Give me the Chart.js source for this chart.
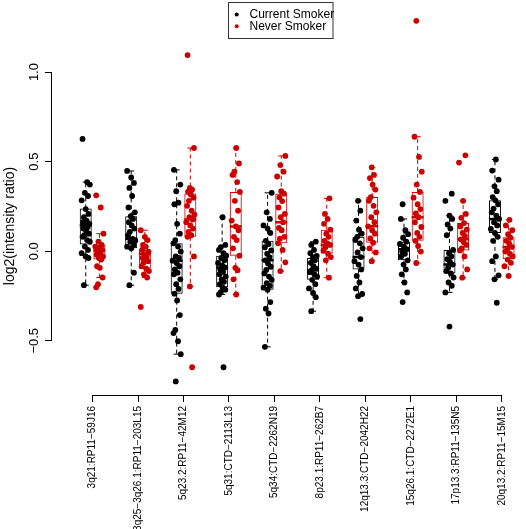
<!DOCTYPE html>
<html><head><meta charset="utf-8">
<script src="https://cdn.jsdelivr.net/npm/chart.js@4.4.0/dist/chart.umd.min.js"></script>
<style>html,body{margin:0;padding:0;background:#fff;overflow:hidden}</style>
</head><body>
<canvas id="c" width="526" height="529"></canvas>
<script>
// ---------- data ----------
const categories = ["3q21:RP11\u221259J16","3q25\u22123q26.1:RP11\u2212203L15","5q23.2:RP11\u221242M12","5q31:CTD\u22122113L13","5q34:CTD\u22122262N19","8p23.1:RP11\u2212262B7","12q13.3:CTD\u22122042H22","15q26.1:CTD\u22122272E1","17p13.3:RP11\u2212135N5","20q13.2:RP11\u221215M15"];
const seriesNames = ["Current Smoker", "Never Smoker"];
const yTicks = [-0.5, 0.0, 0.5, 1.0];
const yTickLabels = ["\u22120.5", "0.0", "0.5", "1.0"];
const yTitle = "log2(intensity ratio)";

const currentPoints = [
  [0.627,0.386,0.372,0.326,0.308,0.284,0.235,0.208,0.19,0.171,0.162,0.153,0.144,0.135,0.126,0.117,0.098,0.089,0.08,0.062,0.053,0.026,0.007,-0.011,-0.029,-0.038,-0.19],
  [0.448,0.412,0.381,0.353,0.308,0.244,0.217,0.195,0.18,0.162,0.144,0.126,0.108,0.089,0.069,0.06,0.053,0.035,0.025,0.016,-0.12,-0.19],
  [0.454,0.372,0.335,0.271,0.262,0.153,0.098,0.062,0.044,0.026,-0.002,-0.029,-0.038,-0.053,-0.066,-0.084,-0.102,-0.12,-0.129,-0.157,-0.184,-0.211,-0.237,-0.275,-0.357,-0.439,-0.457,-0.503,-0.575,-0.727],
  [0.19,0.035,0.022,0.007,-0.011,-0.025,-0.038,-0.051,-0.066,-0.08,-0.091,-0.102,-0.116,-0.129,-0.142,-0.157,-0.171,-0.184,-0.202,-0.215,-0.229,-0.242,-0.648],
  [0.326,0.217,0.18,0.144,0.126,0.102,0.058,0.04,0.022,0.004,-0.014,-0.033,-0.051,-0.069,-0.087,-0.105,-0.124,-0.142,-0.16,-0.178,-0.193,-0.204,-0.215,-0.284,-0.321,-0.348,-0.534],
  [0.053,0.035,0.007,-0.011,-0.026,-0.038,-0.051,-0.065,-0.084,-0.097,-0.106,-0.117,-0.13,-0.142,-0.16,-0.184,-0.208,-0.233,-0.257,-0.335],
  [0.281,0.226,0.171,0.12,0.098,0.08,0.062,0.044,0.016,-0.007,-0.033,-0.056,-0.075,-0.102,-0.138,-0.175,-0.208,-0.239,-0.251,-0.379],
  [0.262,0.18,0.117,0.095,0.075,0.053,0.04,0.026,0.011,-0.002,-0.015,-0.029,-0.051,-0.075,-0.102,-0.129,-0.175,-0.23,-0.284],
  [0.321,0.281,0.199,0.18,0.149,0.126,0.089,0.007,-0.011,-0.029,-0.044,-0.06,-0.075,-0.093,-0.111,-0.124,-0.147,-0.175,-0.193,-0.23,-0.421],
  [0.512,0.45,0.399,0.362,0.335,0.302,0.284,0.262,0.238,0.217,0.199,0.18,0.162,0.144,0.124,0.102,0.08,0.058,-0.029,-0.056,-0.135,-0.157,-0.288]
];
const neverPoints = [
  [0.312,0.244,0.098,0.053,0.035,0.026,0.016,0.007,-0.002,-0.011,-0.02,-0.029,-0.038,-0.047,-0.084,-0.093,-0.147,-0.184,-0.202],
  [0.117,0.08,0.062,0.035,0.026,0.007,-0.002,-0.016,-0.029,-0.038,-0.047,-0.056,-0.065,-0.084,-0.098,-0.111,-0.129,-0.147,-0.311],
  [1.095,0.576,0.353,0.344,0.332,0.317,0.299,0.281,0.253,0.226,0.204,0.19,0.177,0.162,0.144,0.126,0.107,0.089,0.08,-0.029,-0.197,-0.648],
  [0.576,0.49,0.444,0.426,0.386,0.331,0.281,0.226,0.171,0.138,0.117,0.08,0.062,0.016,-0.025,-0.093,-0.106,-0.157,-0.242],
  [0.532,0.481,0.444,0.417,0.335,0.321,0.3,0.28,0.244,0.208,0.19,0.162,0.13,0.117,0.08,0.07,0.044,0.007,-0.062,-0.111],
  [0.295,0.208,0.18,0.153,0.12,0.098,0.08,0.058,0.044,0.035,0.022,0.004,-0.014,-0.033,-0.051,-0.148],
  [0.468,0.426,0.408,0.372,0.344,0.302,0.281,0.253,0.217,0.19,0.162,0.139,0.117,0.098,0.071,0.047,0.016,-0.007,-0.056],
  [1.286,0.639,0.526,0.444,0.372,0.331,0.299,0.262,0.235,0.211,0.19,0.162,0.135,0.102,0.08,0.058,0.029,-0.002,-0.066],
  [0.535,0.495,0.281,0.208,0.186,0.157,0.138,0.12,0.102,0.084,0.066,0.051,0.035,0.016,0.004,-0.029,-0.102,-0.148],
  [0.175,0.144,0.117,0.095,0.075,0.058,0.044,0.024,0.011,-0.002,-0.015,-0.029,-0.047,-0.065,-0.084,-0.138]
];
// box statistics
const currentQ1  = [0.038,0.016,-0.237,-0.202,-0.215,-0.16,-0.102,-0.051,-0.124,0.102];
const currentMed = [0.144,0.069,-0.053,-0.091,-0.051,-0.106,-0.033,0.011,-0.075,0.18];
const currentQ3  = [0.239,0.195,0.044,-0.025,0.058,-0.038,0.08,0.053,0.007,0.284];
const currentLo  = [-0.19,-0.19,-0.575,-0.242,-0.534,-0.335,-0.251,-0.175,-0.23,-0.157];
const currentHi  = [0.386,0.448,0.454,0.19,0.326,0.053,0.281,0.18,0.199,0.512];
const neverQ1  = [-0.047,-0.098,0.08,-0.025,0.044,-0.014,0.047,0.058,0.004,-0.045];
const neverMed = [0.004,-0.016,0.177,0.138,0.162,0.035,0.139,0.19,0.066,0.024];
const neverQ3  = [0.035,0.007,0.322,0.331,0.321,0.12,0.302,0.331,0.157,0.078];
const neverLo  = [-0.147,-0.147,-0.197,-0.242,-0.111,-0.148,-0.056,-0.066,-0.148,-0.138];
const neverHi  = [0.098,0.117,0.576,0.576,0.532,0.295,0.468,0.639,0.281,0.175];

// ---------- presentation ----------
const FONT = "'Liberation Sans', Arial, Helvetica, sans-serif";
const BLACK = '#000000', RED = '#CD0000';
const OFF = 0.15;
const jitter = [-0.07,0.03,0.09,-0.02,0.05,-0.09,0.0,0.06,-0.04,0.02,-0.06,0.08,-0.01,0.04,-0.05,0.01,0.07,-0.03];

function pts(groups, shift){
  const out = [];
  groups.forEach((g, ci) => g.forEach((v, k) => out.push({x: ci + 1 + shift + jitter[(k + ci*5) % jitter.length], y: v})));
  return out;
}
function boxes(q1, q3, shift){ return q1.map((v, i) => ({x: i + 1 + shift, y: [v, q3[i]]})); }
function marks(arr, shift){ return arr.map((v, i) => ({x: i + 1 + shift, y: v})); }
function whiskers(q1, q3, lo, hi, shift){
  const out = [];
  q1.forEach((v, i) => {
    const x = i + 1 + shift;
    out.push({x, y: q3[i]}, {x, y: hi[i]}, {x, y: null}, {x, y: v}, {x, y: lo[i]}, {x, y: null});
  });
  return out;
}

const boxData = boxes(currentQ1, currentQ3, -OFF).concat(boxes(neverQ1, neverQ3, OFF));
const boxColors = currentQ1.map(() => BLACK).concat(neverQ1.map(() => RED));

const deco = {
  id: 'deco',
  afterDraw(chart){
    const {ctx, chartArea, scales:{x, y}} = chart;
    ctx.save();
    ctx.strokeStyle = '#000'; ctx.lineWidth = 1;
    const yb = Math.round(chartArea.bottom) + 0.5;
    ctx.beginPath(); ctx.moveTo(x.getPixelForValue(1), yb); ctx.lineTo(x.getPixelForValue(categories.length), yb); ctx.stroke();
    const xl = Math.round(chartArea.left) - 0.5;
    ctx.beginPath(); ctx.moveTo(xl, y.getPixelForValue(yTicks[0])); ctx.lineTo(xl, y.getPixelForValue(yTicks[yTicks.length-1])); ctx.stroke();
    // y tick labels (parallel to the axis)
    ctx.fillStyle = '#000'; ctx.font = '13px ' + FONT; ctx.textAlign = 'center'; ctx.textBaseline = 'middle';
    yTicks.forEach((v, i) => {
      ctx.save(); ctx.translate(34, y.getPixelForValue(v)); ctx.rotate(-Math.PI/2);
      ctx.fillText(yTickLabels[i], 0, 0); ctx.restore();
    });
    // y title
    ctx.save();
    ctx.translate(10.5, 226); ctx.rotate(-Math.PI/2);
    ctx.font = '14px ' + FONT;
    ctx.fillText(yTitle, 0, 0);
    ctx.restore();
    // legend
    ctx.fillStyle = '#fff'; ctx.fillRect(228.5, 2.5, 104.5, 36);
    ctx.strokeStyle = '#333'; ctx.strokeRect(228.5, 2.5, 104.5, 36);
    const cols = [BLACK, RED], ys = [14.5, 26.2];
    ctx.font = '12px ' + FONT; ctx.textBaseline = 'middle'; ctx.textAlign = 'left';
    seriesNames.forEach((n, i) => {
      ctx.fillStyle = cols[i]; ctx.beginPath(); ctx.arc(236.7, ys[i], 2, 0, Math.PI*2); ctx.fill();
      ctx.fillStyle = '#000'; ctx.fillText(n, 249.5, ys[i]);
    });
    ctx.restore();
  }
};

new Chart(document.getElementById('c'), {
  type: 'scatter',
  data: { datasets: [
    { type:'scatter', label: seriesNames[0], data: pts(currentPoints, -OFF), pointRadius: 2.9, pointHoverRadius: 2.9, backgroundColor: BLACK, borderWidth: 0, order: 0 },
    { type:'scatter', label: seriesNames[1], data: pts(neverPoints, OFF), pointRadius: 2.9, pointHoverRadius: 2.9, backgroundColor: RED, borderWidth: 0, order: 0 },
    { type:'scatter', data: marks(currentMed, -OFF), pointStyle:'line', pointRadius: 6, pointBorderWidth: 2.5, borderColor: BLACK, pointBorderColor: BLACK, order: 1 },
    { type:'scatter', data: marks(neverMed, OFF), pointStyle:'line', pointRadius: 6, pointBorderWidth: 2.5, borderColor: RED, pointBorderColor: RED, order: 1 },
    { type:'bar', data: boxData, barThickness: 12, grouped: false, borderSkipped: false, borderWidth: 1, borderColor: boxColors, backgroundColor: 'rgba(255,255,255,0)', inflateAmount: 0, order: 2 },
    { type:'scatter', data: whiskers(currentQ1, currentQ3, currentLo, currentHi, -OFF), showLine: true, spanGaps: false, borderDash: [4,3], borderWidth: 1, borderColor: BLACK, pointRadius: 0, order: 3 },
    { type:'scatter', data: whiskers(neverQ1, neverQ3, neverLo, neverHi, OFF), showLine: true, spanGaps: false, borderDash: [4,3], borderWidth: 1, borderColor: RED, pointRadius: 0, order: 3 },
    { type:'scatter', data: marks(currentLo, -OFF).concat(marks(currentHi, -OFF)), pointStyle:'line', pointRadius: 3, pointBorderWidth: 1, pointBorderColor: BLACK, order: 3 },
    { type:'scatter', data: marks(neverLo, OFF).concat(marks(neverHi, OFF)), pointStyle:'line', pointRadius: 3, pointBorderWidth: 1, pointBorderColor: RED, order: 3 }
  ]},
  options: {
    responsive: false, animation: false, devicePixelRatio: 1,
    layout: { padding: 0 },
    plugins: { legend: { display: false }, tooltip: { enabled: false }, title: { display: false } },
    events: [],
    scales: {
      x: {
        type: 'linear', min: 0.108, max: 10.346, offset: false,
        afterBuildTicks: s => { s.ticks = categories.map((_, i) => ({ value: i + 1 })); },
        afterFit: s => { s.height = 134; s.paddingLeft = 0; s.paddingRight = 0; },
        ticks: { autoSkip: false, minRotation: 90, maxRotation: 90, padding: 4, color: '#000',
                 font: { size: 10, family: FONT }, callback: v => categories[Math.round(v) - 1] || '' },
        grid: { drawOnChartArea: false, drawTicks: true, tickLength: 7, color: '#000', offset: false },
        border: { display: false }
      },
      y: {
        type: 'linear', min: -0.803, max: 1.355,
        afterBuildTicks: s => { s.ticks = yTicks.map(v => ({ value: v })); },
        afterFit: s => { s.width = 52; s.paddingTop = 0; s.paddingBottom = 0; },
        ticks: { display: false },
        grid: { drawOnChartArea: false, drawTicks: true, tickLength: 7, color: '#000' },
        border: { display: false }
      }
    }
  },
  plugins: [deco]
});
</script>
</body></html>
